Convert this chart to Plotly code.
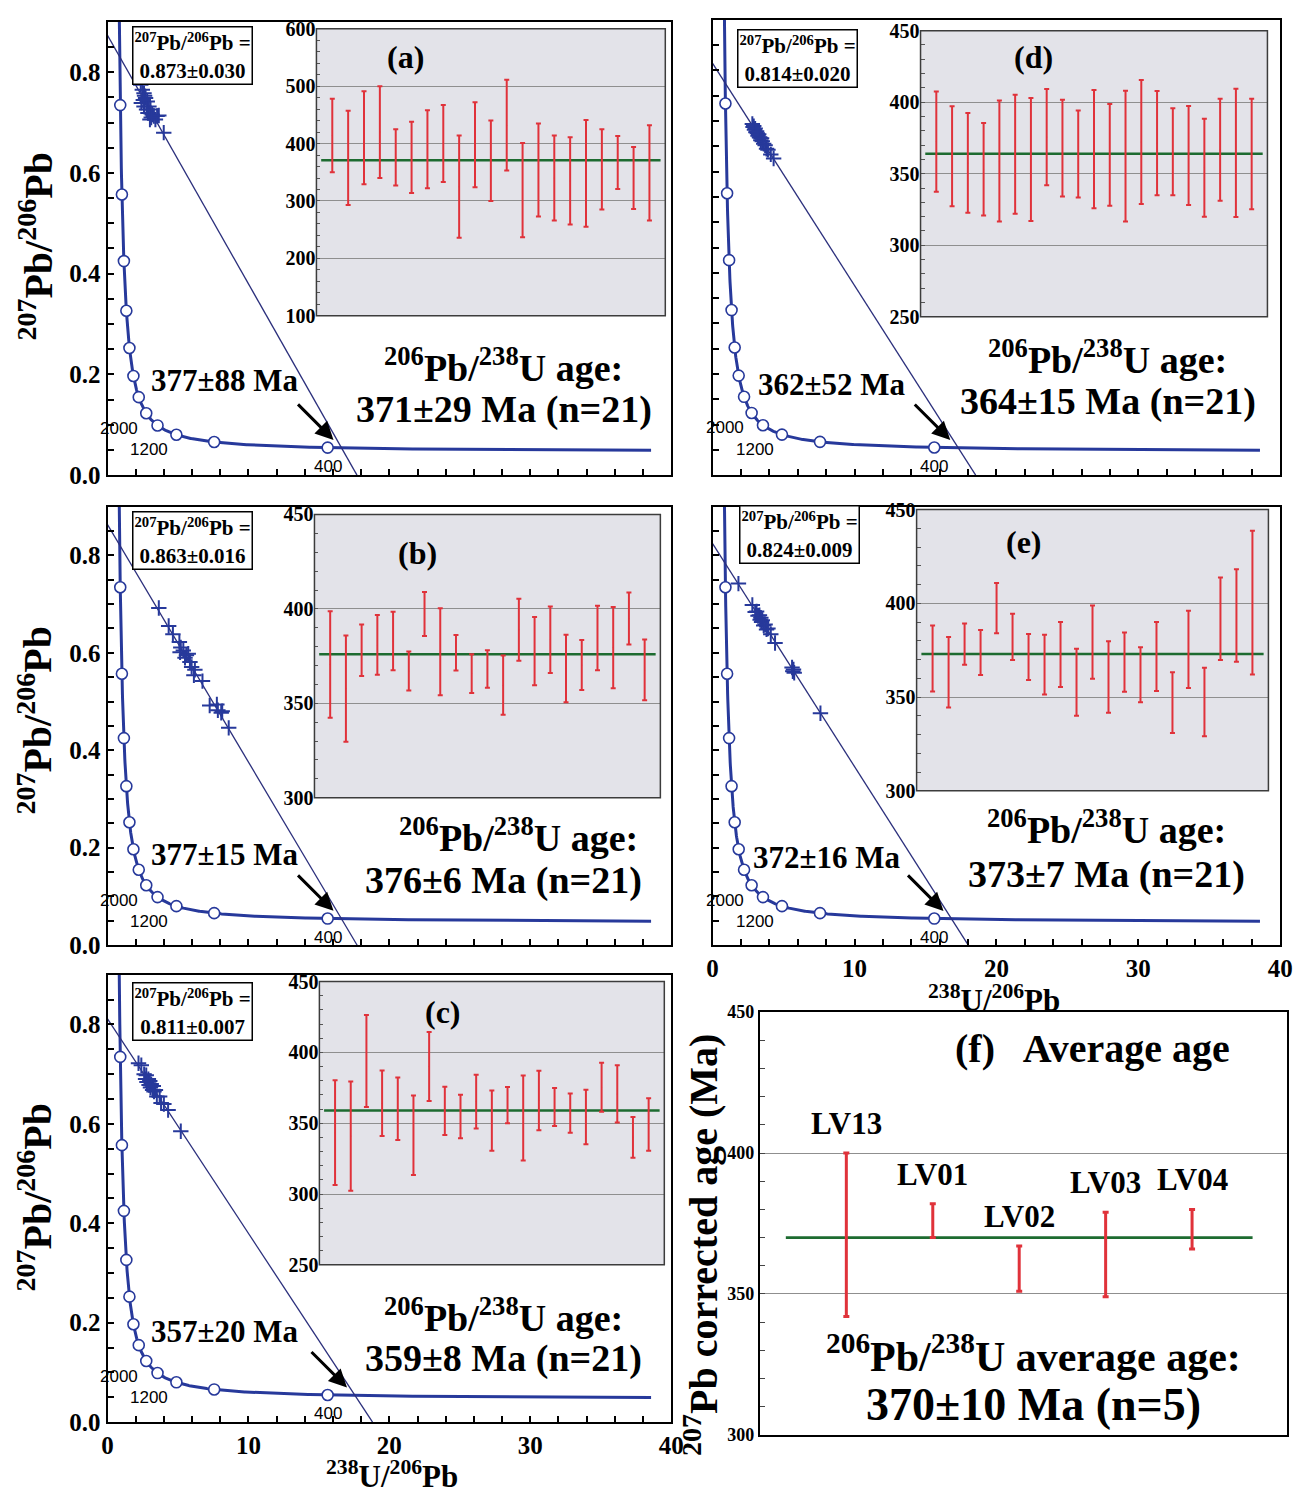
import numpy as np
import plotly.graph_objects as go

# ---------------------------------------------------------------------------
# Decay constants used for the Tera-Wasserburg concordia
# ---------------------------------------------------------------------------
L238 = 1.55125e-10
L235 = 9.8485e-10
U238_U235 = 137.88

CONCORDIA_MARK_AGES = [400, 800, 1200, 1600, 2000, 2400, 2800, 3200, 3600, 4000, 4400, 4800]
CONCORDIA_LABEL_AGES = [2000, 1200, 400]

# ---------------------------------------------------------------------------
# Sample results
# ---------------------------------------------------------------------------
PANEL_TAGS = ["(a)", "(b)", "(c)", "(d)", "(e)"]
SAMPLES = ["LV13", "LV01", "LV02", "LV03", "LV04"]
PB76_INITIAL = [0.873, 0.863, 0.811, 0.814, 0.824]
PB76_INITIAL_ERR = [0.030, 0.016, 0.007, 0.020, 0.009]
INTERCEPT_AGE = [377, 377, 357, 362, 372]
INTERCEPT_ERR = [88, 15, 20, 52, 16]
MEAN_AGE = [371, 376, 359, 364, 373]
MEAN_ERR = [29, 6, 8, 15, 7]
N_SPOTS = [21, 21, 21, 21, 21]
AVERAGE_AGE = 370
AVERAGE_ERR = 10

# Spot analyses: 238U/206Pb and 207Pb/206Pb
U238_PB206_A = [2.36, 2.47, 2.59, 2.40, 2.70, 2.82, 2.59, 2.94, 3.05, 2.87, 3.17,
                3.29, 3.01, 3.52, 3.40, 3.64, 3.99, 2.63, 2.77, 2.54, 3.10]
PB207_PB206_A = [0.775, 0.765, 0.758, 0.739, 0.749, 0.742, 0.732, 0.732, 0.726, 0.719, 0.716,
                 0.713, 0.706, 0.713, 0.706, 0.714, 0.680, 0.753, 0.726, 0.745, 0.710]
U238_PB206_B = [3.64, 4.34, 4.64, 5.10, 5.20, 5.38, 5.60, 5.73, 5.85, 5.97, 6.13,
                6.20, 6.74, 7.25, 7.76, 7.83, 8.07, 8.14, 8.60, 5.50, 5.15]
PB207_PB206_B = [0.692, 0.655, 0.638, 0.622, 0.611, 0.605, 0.595, 0.598, 0.581, 0.571, 0.554,
                 0.565, 0.542, 0.492, 0.494, 0.482, 0.477, 0.480, 0.446, 0.590, 0.601]
U238_PB206_C = [2.20, 2.40, 2.60, 2.70, 2.75, 2.80, 2.90, 2.95, 3.00, 3.05, 3.10,
                3.20, 3.25, 3.30, 3.40, 3.50, 3.70, 3.80, 4.00, 4.30, 5.20]
PB207_PB206_C = [0.722, 0.718, 0.700, 0.690, 0.698, 0.684, 0.690, 0.678, 0.686, 0.673, 0.680,
                 0.668, 0.676, 0.665, 0.668, 0.655, 0.655, 0.642, 0.640, 0.628, 0.585]
U238_PB206_D = [2.80, 2.85, 2.90, 2.95, 3.00, 3.05, 3.10, 3.15, 3.20, 3.25, 3.30,
                3.35, 3.40, 3.45, 3.50, 3.60, 3.70, 3.80, 3.90, 4.10, 4.30]
PB207_PB206_D = [0.694, 0.688, 0.690, 0.683, 0.685, 0.678, 0.680, 0.676, 0.671, 0.674, 0.668,
                 0.667, 0.662, 0.666, 0.660, 0.655, 0.652, 0.645, 0.643, 0.634, 0.626]
U238_PB206_E = [1.82, 2.80, 3.00, 3.10, 3.20, 3.30, 3.35, 3.40, 3.45, 3.50, 3.60,
                3.70, 3.80, 3.90, 4.10, 4.40, 5.60, 5.65, 5.70, 5.75, 7.60]
PB207_PB206_E = [0.742, 0.698, 0.684, 0.685, 0.676, 0.677, 0.668, 0.672, 0.663, 0.667, 0.656,
                 0.658, 0.648, 0.650, 0.638, 0.620, 0.570, 0.562, 0.566, 0.559, 0.476]

# 207Pb-corrected 206Pb/238U spot ages (Ma) and 2-sigma errors
SPOT_AGE_A = [414, 375, 410, 420, 376, 376, 390, 400, 325, 398, 370,
              432, 319, 354, 340, 335, 348, 355, 367, 340, 349]
SPOT_ERR_A = [64, 82, 81, 80, 49, 62, 68, 67, 89, 74, 70,
              79, 82, 81, 74, 76, 93, 70, 46, 54, 83]
SPOT_AGE_B = [370.6, 357.8, 378.1, 380.9, 383.0, 367.1, 397.3, 377.3, 376.8, 365.7, 368.2,
              359.6, 389.0, 377.6, 383.7, 368.4, 370.3, 384.6, 379.5, 394.9, 367.7]
SPOT_ERR_B = [28.2, 28.1, 13.7, 15.8, 15.5, 10.3, 11.7, 23.0, 9.4, 10.3, 9.9,
              15.7, 16.4, 18.1, 17.6, 17.9, 13.2, 17.1, 21.5, 13.8, 16.1]
SPOT_AGE_C = [343.3, 340.9, 393.9, 364.1, 360.2, 341.5, 390.0, 358.7, 354.7, 365.3, 351.8,
              362.8, 353.7, 366.0, 361.5, 357.1, 354.4, 375.4, 370.7, 340.0, 349.1]
SPOT_ERR_C = [37.0, 38.6, 32.5, 23.2, 22.1, 28.0, 24.4, 17.1, 15.4, 19.0, 21.3,
              12.8, 30.0, 21.0, 13.4, 13.8, 19.3, 17.3, 20.2, 14.4, 18.6]
SPOT_AGE_D = [372.5, 362.2, 357.6, 353.2, 358.9, 363.6, 360.0, 375.6, 367.9, 363.8, 367.2,
              363.2, 362.3, 372.2, 371.4, 365.4, 362.8, 354.2, 366.8, 364.6, 363.8]
SPOT_ERR_D = [35.0, 34.9, 34.9, 32.3, 42.3, 41.6, 43.0, 33.6, 33.8, 30.4, 41.3,
              35.5, 45.7, 43.3, 36.4, 30.4, 34.6, 34.2, 35.7, 44.8, 38.6]
SPOT_AGE_E = [370.6, 363.2, 378.2, 373.8, 397.4, 382.1, 371.4, 367.3, 372.7, 357.9, 379.3,
              360.7, 368.6, 361.9, 371.7, 347.1, 375.5, 347.4, 391.8, 393.5, 400.4]
SPOT_ERR_E = [17.6, 18.8, 11.0, 12.0, 13.4, 12.3, 12.3, 15.9, 17.3, 17.9, 19.5,
              19.1, 15.8, 14.7, 18.4, 16.2, 20.6, 18.3, 22.0, 24.7, 38.3]

SPOT_X = [U238_PB206_A, U238_PB206_B, U238_PB206_C, U238_PB206_D, U238_PB206_E]
SPOT_Y = [PB207_PB206_A, PB207_PB206_B, PB207_PB206_C, PB207_PB206_D, PB207_PB206_E]
SPOT_AGE = [SPOT_AGE_A, SPOT_AGE_B, SPOT_AGE_C, SPOT_AGE_D, SPOT_AGE_E]
SPOT_ERR = [SPOT_ERR_A, SPOT_ERR_B, SPOT_ERR_C, SPOT_ERR_D, SPOT_ERR_E]

# ---------------------------------------------------------------------------
# Page geometry (pixels) and styling
# ---------------------------------------------------------------------------
W, H = 1310, 1504
SERIF = "Liberation Serif"
SANS = "Liberation Sans"
BLUE = "#27399b"
NAVY = "#2b2f7c"
RED = "#e0323a"
GREEN = "#1d6b30"
INSET_BG = "#e3e3e9"
GRID = "#8f8f8f"

MAIN_PX = [(103, 675, 11, 472), (103, 675, 504, 950), (103, 675, 980, 1435),
           (717, 1293, 9, 472), (717, 1293, 504, 950)]
INSET_PX = [(315, 669, 18, 310), (313, 664, 512, 800), (318, 668, 987, 1275),
            (928, 1280, 20, 311), (924, 1281, 507, 793)]
INSET_Y = [(100, 600, 100, 20), (300, 450, 50, 10), (250, 450, 50, 10),
           (250, 450, 50, 10), (300, 450, 50, 10)]
F_PX = (765, 1300, 1018, 1448)

TAG_PX = [(405, 47), (418, 551), (443, 1018), (1043, 47), (1033, 540)]
BOX_PX = [(189, 45), (189, 538), (189, 1017), (803, 48), (805, 532)]
INT_LABEL_PX = [(222, 376), (222, 858), (222, 1343), (838, 380), (833, 861)]
AGE1_PX = [(505, 360), (520, 838), (505, 1326), (1118, 352), (1117, 830)]
AGE2_PX = [(505, 405), (505, 884), (505, 1370), (1118, 397), (1117, 878)]
YTITLE_PX = [(30, 240), (30, 722), (30, 1207)]
XTITLE_PX = [(392, 1488), (1003, 1004)]
CONC_LABEL_SHIFT = {2000: (-27, -15), 1200: (-27, -15), 400: (0, -19)}


def dom_x(l, r):
    return [l / W, r / W]


def dom_y(t, b):
    return [1 - b / H, 1 - t / H]


def concordia(age_ma):
    t = np.asarray(age_ma, dtype=float) * 1e6
    e8 = np.exp(L238 * t) - 1
    e5 = np.exp(L235 * t) - 1
    return 1 / e8, e5 / e8 / U238_U235


def ids(k):
    return ("x" if k == 1 else f"x{k}"), ("y" if k == 1 else f"y{k}")


def axkey(k, letter):
    return f"{letter}axis" if k == 1 else f"{letter}axis{k}"


def bold(size, family=SERIF, color="black"):
    return dict(family=family, size=size, color=color, weight="bold")


def page_text(px, py, text, size, **kw):
    """Text placed on the page, centred on a pixel position."""
    d = dict(x=px / W, y=1 - py / H, xref="paper", yref="paper", showarrow=False,
             xanchor="center", yanchor="middle", text=text, font=bold(size))
    d.update(kw)
    return d


fig = go.Figure()
layout = dict(width=W, height=H, autosize=False, margin=dict(l=0, r=0, t=0, b=0),
              paper_bgcolor="white", plot_bgcolor="rgba(0,0,0,0)", showlegend=False)
annotations = []
shapes = []

curve_ages = np.geomspace(165, 5200, 500)
cx, cy = concordia(curve_ages)
mx, my = concordia(CONCORDIA_MARK_AGES)

for i in range(5):
    km, ki = 2 * i + 1, 2 * i + 2
    xm, ym = ids(km)
    xi, yi = ids(ki)
    l, r, t, b = MAIN_PX[i]

    # ---- Tera-Wasserburg panel ----
    layout[axkey(km, "x")] = dict(
        domain=dom_x(l, r), range=[0, 40], anchor=ym,
        showline=True, linecolor="black", linewidth=2, mirror=True,
        ticks="inside", ticklen=6, tickwidth=1.5, tickcolor="black", tick0=0, dtick=10,
        minor=dict(dtick=2, ticks="inside", ticklen=6, tickwidth=1.5, tickcolor="black"),
        showticklabels=i in (2, 4), tickfont=bold(25), showgrid=False, zeroline=False)
    layout[axkey(km, "y")] = dict(
        domain=dom_y(t, b), range=[0, 0.9], anchor=xm,
        showline=True, linecolor="black", linewidth=2, mirror=True,
        ticks="inside", ticklen=6, tickwidth=1.5, tickcolor="black", tick0=0, dtick=0.2,
        minor=dict(dtick=0.05, ticks="inside", ticklen=6, tickwidth=1.5, tickcolor="black"),
        tickformat=".1f", showticklabels=i < 3, tickfont=bold(25),
        showgrid=False, zeroline=False)

    # concordia curve and age marks
    fig.add_trace(go.Scatter(x=cx, y=cy, xaxis=xm, yaxis=ym, mode="lines",
                             line=dict(color=BLUE, width=3), hoverinfo="skip"))
    fig.add_trace(go.Scatter(x=mx, y=my, xaxis=xm, yaxis=ym, mode="markers",
                             marker=dict(symbol="circle", size=11, color="white",
                                         line=dict(color=BLUE, width=1.6))))

    # discordia through the initial 207Pb/206Pb and the lower intercept age
    lx, ly = concordia(INTERCEPT_AGE[i])
    b0 = PB76_INITIAL[i]
    slope = (float(ly) - b0) / float(lx)
    fig.add_trace(go.Scatter(x=[0, -b0 / slope], y=[b0, 0], xaxis=xm, yaxis=ym,
                             mode="lines", line=dict(color=NAVY, width=1.3)))

    # spot analyses
    fig.add_trace(go.Scatter(x=SPOT_X[i], y=SPOT_Y[i], xaxis=xm, yaxis=ym, mode="markers",
                             marker=dict(symbol="cross-thin", size=11,
                                         line=dict(color=BLUE, width=2))))

    # concordia age labels
    for age in CONCORDIA_LABEL_AGES:
        ax_, ay_ = concordia(age)
        sx, sy = CONC_LABEL_SHIFT[age]
        annotations.append(dict(x=float(ax_), y=float(ay_), xref=xm, yref=ym,
                                text=str(age), showarrow=False, xshift=sx, yshift=sy,
                                xanchor="center", yanchor="middle",
                                font=dict(family=SANS, size=17, color="black")))

    # arrow to the lower intercept
    annotations.append(dict(x=float(lx), y=float(ly), xref=xm, yref=ym, text="",
                            showarrow=True, arrowhead=2, arrowsize=1.2, arrowwidth=3,
                            arrowcolor="black", ax=-37, ay=-37, xshift=-8, yshift=8))

    # ---- inset: weighted mean plot ----
    il, ir, it, ib = INSET_PX[i]
    y0, y1, dt, mdt = INSET_Y[i]
    layout[axkey(ki, "x")] = dict(domain=dom_x(il, ir), range=[0, 22], anchor=yi,
                                  visible=False)
    layout[axkey(ki, "y")] = dict(
        domain=dom_y(it, ib), range=[y0, y1], anchor=xi, tick0=y0, dtick=dt,
        showline=False, ticks="inside", ticklen=4, tickwidth=1, tickcolor="#555",
        minor=dict(dtick=mdt, ticks="inside", ticklen=4, tickwidth=1, tickcolor="#555"),
        showgrid=True, gridcolor=GRID, gridwidth=1, zeroline=False,
        tickfont=bold(20))
    shapes.append(dict(type="rect", xref=f"{xi} domain", yref=f"{yi} domain",
                       x0=0, x1=1, y0=0, y1=1, fillcolor=INSET_BG,
                       line=dict(width=0), layer="below"))
    shapes.append(dict(type="rect", xref=f"{xi} domain", yref=f"{yi} domain",
                       x0=0, x1=1, y0=0, y1=1, fillcolor="rgba(0,0,0,0)",
                       line=dict(color="#3c3c3c", width=1.5), layer="above"))
    n = len(SPOT_AGE[i])
    fig.add_trace(go.Scatter(x=[0.3, 21.7], y=[MEAN_AGE[i], MEAN_AGE[i]], xaxis=xi, yaxis=yi,
                             mode="lines", line=dict(color=GREEN, width=2.6)))
    fig.add_trace(go.Scatter(x=list(range(1, n + 1)), y=SPOT_AGE[i], xaxis=xi, yaxis=yi,
                             mode="markers", marker=dict(size=1, color=RED),
                             error_y=dict(type="data", array=SPOT_ERR[i], color=RED,
                                          thickness=2, width=2.5)))

    # ---- texts ----
    annotations.append(page_text(*TAG_PX[i], PANEL_TAGS[i], 32))
    annotations.append(page_text(
        *BOX_PX[i],
        (f"<sup>207</sup>Pb/<sup>206</sup>Pb =<br>"
         f"{PB76_INITIAL[i]:.3f}±{PB76_INITIAL_ERR[i]:.3f}"),
        21, bordercolor="black", borderwidth=1.5, borderpad=1,
        bgcolor="white", align="center"))
    annotations.append(page_text(*INT_LABEL_PX[i],
                                 f"{INTERCEPT_AGE[i]}±{INTERCEPT_ERR[i]} Ma", 31))
    annotations.append(page_text(*AGE1_PX[i], "<sup>206</sup>Pb/<sup>238</sup>U age:", 38))
    annotations.append(page_text(*AGE2_PX[i],
                                 f"{MEAN_AGE[i]}±{MEAN_ERR[i]} Ma (n={N_SPOTS[i]})", 38))

# ---- panel (f): average ages of the five samples ----
xf, yf = ids(11)
l, r, t, b = F_PX
layout[axkey(11, "x")] = dict(domain=dom_x(l, r), range=[0, 6.1], anchor=yf,
                              showline=True, linecolor="black", linewidth=2, mirror=True,
                              ticks="", showticklabels=False, showgrid=False, zeroline=False)
layout[axkey(11, "y")] = dict(
    domain=dom_y(t, b), range=[300, 450], anchor=xf, tick0=300, dtick=50,
    showline=True, linecolor="black", linewidth=2, mirror=True,
    ticks="inside", ticklen=5, tickwidth=1, tickcolor="#444",
    minor=dict(dtick=10, ticks="inside", ticklen=5, tickwidth=1, tickcolor="#444"),
    showgrid=True, gridcolor=GRID, gridwidth=1, zeroline=False, tickfont=bold(18))
fig.add_trace(go.Scatter(x=[0.3, 5.7], y=[AVERAGE_AGE, AVERAGE_AGE], xaxis=xf, yaxis=yf,
                         mode="lines", line=dict(color=GREEN, width=2.6)))
sample_x = list(range(1, len(SAMPLES) + 1))
fig.add_trace(go.Scatter(x=sample_x, y=MEAN_AGE, xaxis=xf, yaxis=yf, mode="markers",
                         marker=dict(size=1, color=RED),
                         error_y=dict(type="data", array=MEAN_ERR, color=RED,
                                      thickness=3, width=3)))
for sx, name, age, err in zip(sample_x, SAMPLES, MEAN_AGE, MEAN_ERR):
    annotations.append(dict(x=sx, y=age + err, xref=xf, yref=yf, text=name,
                            showarrow=False, xanchor="center", yanchor="bottom",
                            yshift=10, font=bold(31)))

annotations.append(page_text(1102, 1055, "(f)   Average age", 40))
annotations.append(page_text(1043, 1365, "<sup>206</sup>Pb/<sup>238</sup>U average age:", 42))
annotations.append(page_text(1043, 1417,
                             f"{AVERAGE_AGE}±{AVERAGE_ERR} Ma (n={len(SAMPLES)})", 46))

# ---- axis titles ----
for (px0, py0) in YTITLE_PX:
    annotations.append(page_text(px0, py0, "<sup>207</sup>Pb/<sup>206</sup>Pb", 40,
                                 textangle=-90))
for (px0, py0) in XTITLE_PX:
    annotations.append(page_text(px0, py0, "<sup>238</sup>U/<sup>206</sup>Pb", 31))
annotations.append(page_text(705, 1255, "<sup>207</sup>Pb corrected age (Ma)", 40,
                             textangle=-90))

layout["annotations"] = annotations
layout["shapes"] = shapes
fig.update_layout(**layout)
fig.write_html("out.html")
